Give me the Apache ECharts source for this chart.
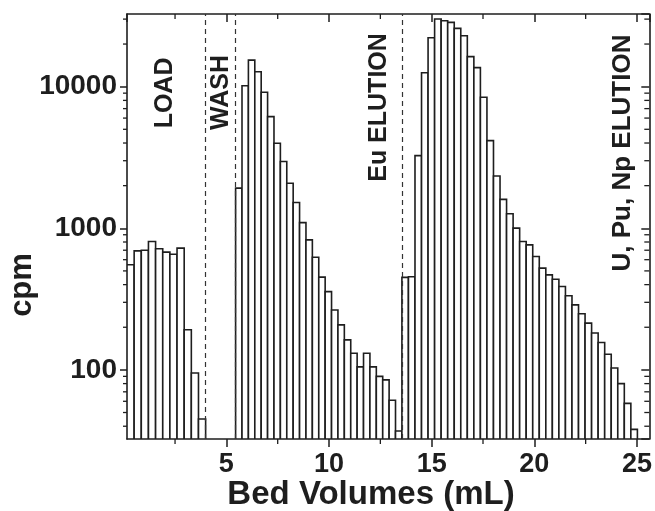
<!DOCTYPE html>
<html><head><meta charset="utf-8">
<script src="https://cdn.jsdelivr.net/npm/echarts@6/dist/echarts.min.js"></script>
<style>html,body{margin:0;padding:0;background:#fff}#c{width:655px;height:511px}</style>
</head><body><div id="c"></div>
<script>
// ---- data ----
const loadRange = [0.16, 3.99];
const loadValues = [552, 693, 700, 807, 716, 679, 656, 724, 192, 95, 45];
const euRange = [5.45, 13.55];
const euValues = [1920, 10160, 15400, 12760, 9130, 6140, 3990, 2960, 2080, 1520, 1097, 828, 625, 452, 357, 265, 208, 163, 131, 105, 131, 105, 90, 85, 61, 37];
const actRange = [13.55, 25.02];
const actValues = [450, 455, 3260, 12550, 22170, 30060, 29240, 28450, 25800, 22900, 16300, 13620, 8410, 4160, 2340, 1600, 1265, 1002, 806, 764, 632, 523, 469, 437, 388, 334, 288, 249, 214, 182, 156, 129, 103, 80, 58, 38];
const dividers = [3.99, 5.45, 13.55];
const regionLabels = ['LOAD', 'WASH', 'Eu ELUTION', 'U, Pu, Np ELUTION'];
const regionLabelX = [2.02, 4.73, 12.46, 24.33];
const regionLabelY = [9030, 9100, 7130, 3400];
const xMajorTicks = [5, 10, 15, 20, 25];
const xMinorTicks = [2.5, 7.5, 12.5, 17.5, 22.5];
const yMajorTicks = [100, 1000, 10000];
const xMin = 0.16, xMax = 25.6, yMin = 32.5, yMax = 32600;
const xTitle = 'Bed Volumes (mL)';
const yTitle = 'cpm';

// ---- build ----
function bins(range, values) {
  const w = (range[1] - range[0]) / values.length;
  return values.map((v, i) => [range[0] + i * w, range[0] + (i + 1) * w, v]);
}
const barData = [].concat(bins(loadRange, loadValues), bins(euRange, euValues), bins(actRange, actValues));

const yMinor = [];
[10, 100, 1000, 10000].forEach(d => { for (let k = 2; k <= 9; k++) { const v = k * d; if (v > yMin && v < yMax) yMinor.push([xMin, v]); } });

const FONT = '"Liberation Sans", Arial, sans-serif';
const INK = '#1e1e1e';

const chart = echarts.init(document.getElementById('c'), null, {renderer: 'canvas'});
const axisLineStyle = {lineStyle: {color: INK, width: 1.6}};
const option = {
  animation: false,
  backgroundColor: '#fff',
  grid: {left: 127, right: 4, top: 14, bottom: 72, containLabel: false},
  xAxis: [
    {type: 'value', position: 'bottom', min: xMin, max: xMax, splitNumber: 5,
     axisLine: axisLineStyle, splitLine: {show: false},
     axisTick: {show: true, inside: false, length: 8, lineStyle: {color: INK, width: 1.5}},
     axisLabel: {show: true, margin: 12, color: INK, fontFamily: FONT, fontWeight: 'bold', fontSize: 27,
                 showMinLabel: false, showMaxLabel: false,
                 formatter: v => xMajorTicks.indexOf(Math.round(v * 1000) / 1000) >= 0 ? String(Math.round(v)) : ''}},
    {type: 'value', position: 'top', min: xMin, max: xMax, splitNumber: 5,
     axisLine: axisLineStyle, splitLine: {show: false},
     axisTick: {show: true, inside: true, length: 8, lineStyle: {color: INK, width: 1.5}},
     axisLabel: {show: false}}
  ],
  yAxis: [
    {type: 'log', position: 'left', min: yMin, max: yMax, logBase: 10,
     axisLine: axisLineStyle, splitLine: {show: false},
     axisTick: {show: true, inside: false, length: 7, lineStyle: {color: INK, width: 1.5}},
     axisLabel: {show: true, margin: 10, color: INK, fontFamily: FONT, fontWeight: 'bold', fontSize: 28,
                 showMinLabel: false, showMaxLabel: false,
                 formatter: v => yMajorTicks.indexOf(Math.round(v)) >= 0 ? String(Math.round(v)) : ''}},
    {type: 'log', position: 'right', min: yMin, max: yMax, logBase: 10,
     axisLine: axisLineStyle, splitLine: {show: false},
     axisTick: {show: true, inside: true, length: 8, lineStyle: {color: INK, width: 1.5}},
     axisLabel: {show: false}}
  ],
  graphic: [
    {type: 'text', x: 22, y: 285, rotation: Math.PI / 2,
     style: {text: yTitle, font: 'bold 31px ' + FONT, fill: INK, align: 'center', verticalAlign: 'middle'}},
    {type: 'text', x: 371, y: 495,
     style: {text: xTitle, font: 'bold 33px ' + FONT, fill: INK, align: 'center', verticalAlign: 'middle'}}
  ],
  series: [
    {type: 'custom', name: 'bars', xAxisIndex: 0, yAxisIndex: 0, data: barData,
     encode: {x: [0, 1], y: 2}, clip: true,
     renderItem: (params, api) => {
       const p0 = api.coord([api.value(0), api.value(2)]);
       const p1 = api.coord([api.value(1), yMin]);
       return {type: 'rect', shape: {x: p0[0], y: p0[1], width: p1[0] - p0[0], height: p1[1] - p0[1]},
               style: {fill: '#fff', stroke: INK, lineWidth: 1.6}};
     },
     markLine: {silent: true, symbol: 'none', label: {show: false},
                lineStyle: {color: '#333', width: 1.2, type: [5, 4]},
                data: dividers.map(d => ({xAxis: d}))}
    },
    {type: 'custom', name: 'yMinorTicks', xAxisIndex: 0, yAxisIndex: 0, data: yMinor, silent: true,
     encode: {x: 0, y: 1}, clip: false,
     renderItem: (params, api) => {
       const v = api.value(1);
       const l = api.coord([xMin, v]), r = api.coord([xMax, v]);
       return {type: 'group', children: [
         {type: 'line', shape: {x1: l[0] - 4, y1: l[1], x2: l[0], y2: l[1]}, style: {stroke: INK, lineWidth: 1.3}},
         {type: 'line', shape: {x1: r[0] - 5, y1: r[1], x2: r[0], y2: r[1]}, style: {stroke: INK, lineWidth: 1.3}}
       ]};
     }},
    {type: 'custom', name: 'xMinorTicks', xAxisIndex: 0, yAxisIndex: 0, data: xMinorTicks.map(x => [x, yMin]), silent: true,
     encode: {x: 0, y: 1}, clip: false,
     renderItem: (params, api) => {
       const x = api.value(0);
       const b = api.coord([x, yMin]), t = api.coord([x, yMax]);
       return {type: 'group', children: [
         {type: 'line', shape: {x1: b[0], y1: b[1], x2: b[0], y2: b[1] + 5}, style: {stroke: INK, lineWidth: 1.3}},
         {type: 'line', shape: {x1: t[0], y1: t[1], x2: t[0], y2: t[1] + 5}, style: {stroke: INK, lineWidth: 1.3}}
       ]};
     }},
    {type: 'custom', name: 'regionLabels', xAxisIndex: 0, yAxisIndex: 0, silent: true, clip: false,
     data: regionLabels.map((s, i) => [regionLabelX[i], regionLabelY[i], i]),
     encode: {x: 0, y: 1},
     renderItem: (params, api) => {
       const idx = api.value(2);
       const p = api.coord([api.value(0), api.value(1)]);
       return {type: 'text', x: p[0], y: p[1], rotation: Math.PI / 2,
               style: {text: regionLabels[idx], font: 'bold ' + (idx === 3 ? 26 : 25) + 'px ' + FONT, fill: INK,
                       align: 'center', verticalAlign: 'middle'}};
     }}
  ]
};
chart.setOption(option);
</script>
</body></html>
